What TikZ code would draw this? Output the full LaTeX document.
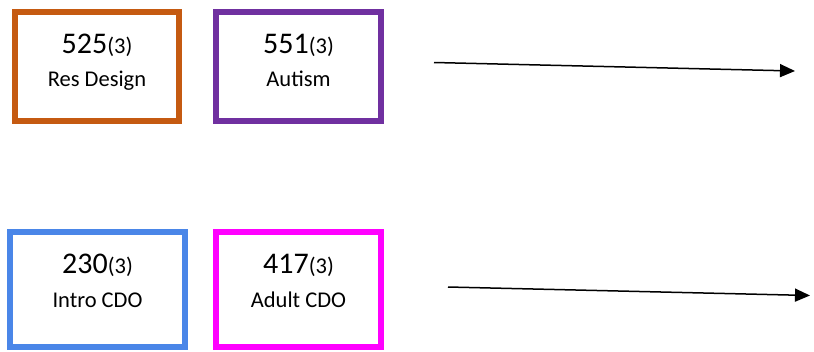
\documentclass[tikz,border=0pt]{standalone}
\usepackage{fontspec}
\setmainfont{Carlito}
\usetikzlibrary{arrows.meta}
\definecolor{corange}{HTML}{C55A11}
\definecolor{cpurple}{HTML}{7030A0}
\definecolor{cblue}{HTML}{4A86E8}
\definecolor{cmagenta}{HTML}{FF00FF}
\tikzset{
  box/.style={draw=#1, line width=6pt, rectangle, inner sep=0pt, fill=white},
  big/.style={anchor=base, inner sep=0pt, font=\fontsize{30}{30}\selectfont},
  small/.style={anchor=base, inner sep=0pt, font=\fontsize{22.5}{22.5}\selectfont},
  flow/.style={line width=1.5pt, -{Triangle[length=15pt,width=13pt]}}
}
\begin{document}
\begin{tikzpicture}[x=1pt,y=-1pt]
\useasboundingbox (0,0) rectangle (814,351);
\node[box=corange, minimum width=164pt, minimum height=109pt] (b1) at (97,66.5) {};
\node[box=cpurple, minimum width=165pt, minimum height=109pt] (b2) at (298.5,66.5) {};
\node[box=cblue, minimum width=175pt, minimum height=115pt] (b3) at (97.5,289.5) {};
\node[box=cmagenta, minimum width=165pt, minimum height=115pt] (b4) at (298.5,289.5) {};
\node[big] (n1) at (97,53) {525{\fontsize{22.5}{22.5}\selectfont(3)}};
\node[small] (l1) at (97,86) {Res Design};
\node[big] (n2) at (298.5,53) {551{\fontsize{22.5}{22.5}\selectfont(3)}};
\node[small] (l2) at (298.5,86) {Autism};
\node[big] (n3) at (97.5,273) {230{\fontsize{22.5}{22.5}\selectfont(3)}};
\node[small] (l3) at (97.5,307) {Intro CDO};
\node[big] (n4) at (298.5,273) {417{\fontsize{22.5}{22.5}\selectfont(3)}};
\node[small] (l4) at (298.5,307) {Adult CDO};
\coordinate (a1s) at (434,62.5);
\coordinate (a1e) at (795,71);
\coordinate (a2s) at (448,287);
\coordinate (a2e) at (810,295.5);
\draw[flow] (a1s) -- (a1e);
\draw[flow] (a2s) -- (a2e);
\end{tikzpicture}
\end{document}
